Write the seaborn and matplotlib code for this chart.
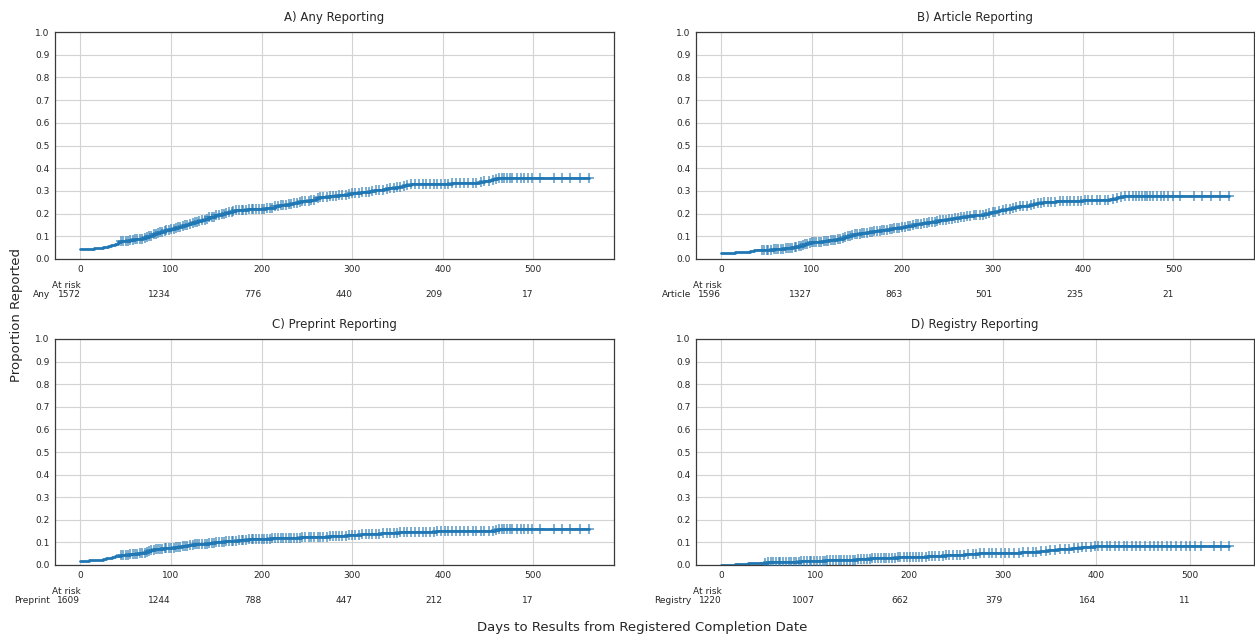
import numpy as np
import pandas as pd
import matplotlib.pyplot as plt
import seaborn as sns

# theme first, then fonts (set_theme resets font.family)
sns.set_theme(style="whitegrid")
plt.rcParams['font.family'] = ['DejaVu Sans']
plt.rcParams['axes.edgecolor'] = '#3a3a3a'
plt.rcParams['grid.color'] = '#d3d3d3'

# === data ===
panel_titles = ['A) Any Reporting', 'B) Article Reporting',
                'C) Preprint Reporting', 'D) Registry Reporting']
row_labels = ['Any', 'Article', 'Preprint', 'Registry']

risk_days = [0, 100, 200, 300, 400, 500]
any_risk = [1572, 1234, 776, 440, 209, 17]
article_risk = [1596, 1327, 863, 501, 235, 21]
preprint_risk = [1609, 1244, 788, 447, 212, 17]
registry_risk = [1220, 1007, 662, 379, 164, 11]

# cumulative proportion reported (step knots)
any_days = [0, 5, 10, 15, 20, 25, 30, 34, 38, 42, 45, 50, 55, 60, 65, 69, 72, 76, 80, 84,
            88, 92, 95, 100, 104, 108, 112, 115, 119, 122, 126, 130, 134, 138, 142, 145,
            149, 152, 156, 160, 164, 168, 172, 175, 180, 185, 190, 195, 200, 205, 210, 215,
            220, 225, 230, 235, 240, 245, 250, 255, 260, 265, 270, 275, 280, 285, 290, 295,
            300, 305, 310, 315, 320, 325, 330, 335, 340, 345, 350, 355, 358, 362, 365, 372,
            380, 390, 400, 410, 420, 428, 435, 440, 445, 449, 452, 456, 460, 561]
any_prop = [0.042, 0.043, 0.045, 0.047, 0.050, 0.054, 0.058, 0.063, 0.068, 0.074, 0.078,
            0.080, 0.083, 0.086, 0.089, 0.094, 0.098, 0.103, 0.108, 0.113, 0.118, 0.123,
            0.127, 0.134, 0.138, 0.142, 0.147, 0.151, 0.156, 0.160, 0.165, 0.169, 0.174,
            0.178, 0.183, 0.187, 0.192, 0.196, 0.200, 0.204, 0.208, 0.211, 0.214, 0.216,
            0.218, 0.219, 0.220, 0.221, 0.222, 0.224, 0.226, 0.233, 0.236, 0.240, 0.243,
            0.247, 0.250, 0.254, 0.257, 0.261, 0.268, 0.272, 0.275, 0.277, 0.279, 0.281,
            0.283, 0.286, 0.289, 0.292, 0.294, 0.297, 0.299, 0.302, 0.304, 0.307, 0.311,
            0.314, 0.318, 0.321, 0.324, 0.327, 0.329, 0.330, 0.331, 0.332, 0.332, 0.333,
            0.333, 0.335, 0.337, 0.339, 0.342, 0.345, 0.348, 0.352, 0.355, 0.355]

article_days = [0, 8, 15, 22, 28, 32, 36, 42, 50, 58, 65, 70, 75, 79, 82, 86, 90, 93, 96,
                100, 104, 108, 112, 115, 119, 122, 125, 128, 131, 134, 137, 140, 143, 145,
                148, 150, 154, 158, 162, 165, 169, 172, 176, 180, 185, 190, 195, 200, 204,
                208, 212, 215, 219, 222, 226, 230, 234, 238, 242, 245, 249, 252, 256, 260,
                264, 268, 272, 275, 279, 283, 287, 290, 293, 296, 299, 302, 305, 308, 312,
                315, 320, 325, 330, 335, 340, 345, 349, 352, 356, 360, 370, 380, 390, 400,
                408, 415, 422, 430, 433, 436, 439, 441, 444, 446, 561]
article_prop = [0.028, 0.028, 0.029, 0.030, 0.032, 0.035, 0.039, 0.040, 0.041, 0.043, 0.045,
                0.047, 0.050, 0.052, 0.055, 0.059, 0.063, 0.066, 0.070, 0.074, 0.075, 0.077,
                0.079, 0.080, 0.082, 0.084, 0.085, 0.087, 0.090, 0.093, 0.097, 0.100, 0.103,
                0.105, 0.108, 0.110, 0.113, 0.116, 0.118, 0.120, 0.122, 0.124, 0.126, 0.129,
                0.132, 0.135, 0.138, 0.141, 0.144, 0.147, 0.150, 0.152, 0.155, 0.157, 0.160,
                0.163, 0.165, 0.168, 0.171, 0.173, 0.175, 0.177, 0.180, 0.182, 0.184, 0.186,
                0.188, 0.190, 0.192, 0.194, 0.196, 0.198, 0.200, 0.202, 0.205, 0.208, 0.211,
                0.215, 0.218, 0.221, 0.225, 0.228, 0.232, 0.235, 0.239, 0.243, 0.246, 0.248,
                0.251, 0.253, 0.255, 0.256, 0.257, 0.258, 0.259, 0.260, 0.261, 0.263, 0.265,
                0.268, 0.271, 0.274, 0.277, 0.279, 0.279]

preprint_days = [0, 5, 10, 15, 20, 25, 28, 32, 35, 38, 42, 45, 50, 55, 60, 65, 68, 72, 75,
                 78, 82, 85, 89, 92, 96, 100, 104, 108, 112, 115, 119, 122, 126, 130, 134,
                 138, 142, 145, 149, 152, 156, 160, 164, 168, 172, 175, 179, 182, 186, 190,
                 195, 200, 206, 212, 218, 225, 231, 237, 243, 250, 256, 262, 268, 275, 281,
                 288, 294, 300, 305, 310, 315, 320, 326, 332, 338, 345, 352, 358, 364, 370,
                 378, 385, 392, 400, 415, 430, 445, 455, 458, 462, 561]
preprint_prop = [0.018, 0.019, 0.021, 0.022, 0.024, 0.027, 0.029, 0.033, 0.036, 0.039,
                 0.042, 0.044, 0.046, 0.048, 0.050, 0.052, 0.055, 0.058, 0.062, 0.067,
                 0.069, 0.071, 0.073, 0.074, 0.076, 0.077, 0.079, 0.081, 0.083, 0.085,
                 0.087, 0.089, 0.091, 0.092, 0.094, 0.095, 0.097, 0.098, 0.100, 0.101,
                 0.103, 0.104, 0.106, 0.107, 0.108, 0.109, 0.111, 0.112, 0.114, 0.115,
                 0.116, 0.117, 0.117, 0.118, 0.119, 0.120, 0.120, 0.121, 0.122, 0.123,
                 0.124, 0.125, 0.126, 0.128, 0.129, 0.130, 0.131, 0.133, 0.134, 0.135,
                 0.136, 0.137, 0.138, 0.140, 0.141, 0.143, 0.144, 0.145, 0.146, 0.146,
                 0.147, 0.148, 0.149, 0.149, 0.149, 0.149, 0.150, 0.150, 0.154, 0.158, 0.158]

registry_days = [0, 5, 10, 15, 20, 28, 35, 42, 50, 60, 70, 85, 100, 112, 125, 135, 145, 152,
                 160, 168, 175, 188, 200, 210, 220, 230, 240, 250, 260, 268, 275, 288, 300,
                 310, 320, 330, 340, 344, 348, 352, 355, 359, 362, 366, 370, 374, 378, 382,
                 385, 389, 392, 395, 398, 404, 410, 541]
registry_prop = [0.000, 0.001, 0.002, 0.004, 0.005, 0.007, 0.008, 0.010, 0.012, 0.013,
                 0.015, 0.017, 0.019, 0.020, 0.022, 0.023, 0.025, 0.027, 0.029, 0.031,
                 0.032, 0.034, 0.035, 0.036, 0.038, 0.040, 0.043, 0.045, 0.047, 0.049,
                 0.051, 0.052, 0.054, 0.055, 0.057, 0.059, 0.062, 0.063, 0.065, 0.066,
                 0.068, 0.070, 0.071, 0.072, 0.073, 0.075, 0.076, 0.077, 0.078, 0.079,
                 0.080, 0.081, 0.082, 0.082, 0.083, 0.083]

# censoring times (ticks on the curves)
censor_days = [45, 47, 50, 52, 55, 58, 60, 63, 66, 68, 71, 74, 76, 78, 81, 83, 86, 88, 90,
               93, 95, 98, 100, 103, 105, 108, 110, 113, 116, 118, 121, 124, 126, 129, 131,
               134, 137, 140, 142, 145, 148, 150, 153, 156, 158, 161, 164, 167, 169, 172,
               175, 178, 180, 183, 186, 189, 191, 194, 197, 200, 203, 206, 209, 212, 215,
               218, 221, 224, 227, 230, 233, 236, 239, 242, 245, 248, 252, 255, 258, 262,
               265, 268, 272, 275, 279, 282, 286, 289, 293, 296, 300, 303, 307, 311, 315,
               319, 322, 326, 330, 334, 338, 342, 346, 350, 353, 357, 361, 365, 369, 374,
               378, 382, 386, 390, 394, 398, 402, 406, 410, 415, 419, 424, 428, 433, 437,
               442, 446, 451, 455, 459, 462, 465, 468, 471, 474, 477, 482, 486, 490, 494,
               499, 507, 523, 532, 541, 551, 561]
registry_censor_days = [47, 50, 53, 55, 58, 61, 63, 66, 69, 72, 74, 77, 80, 83, 85, 88, 91,
                        94, 96, 99, 102, 105, 108, 110, 113, 116, 119, 122, 125, 128, 131,
                        134, 137, 140, 143, 146, 149, 152, 155, 158, 161, 164, 167, 170,
                        173, 176, 179, 182, 185, 188, 191, 195, 198, 201, 204, 208, 211,
                        214, 218, 221, 225, 228, 232, 236, 240, 243, 247, 251, 255, 259,
                        263, 268, 272, 276, 280, 285, 289, 293, 298, 303, 307, 312, 317,
                        322, 327, 332, 336, 341, 346, 351, 356, 361, 366, 371, 376, 380,
                        385, 389, 394, 398, 402, 406, 411, 415, 420, 424, 429, 433, 438,
                        442, 447, 452, 457, 461, 466, 470, 475, 480, 485, 490, 495, 500,
                        505, 511, 525, 533, 541]

curves = [
    (any_days, any_prop, censor_days, any_risk),
    (article_days, article_prop, censor_days, article_risk),
    (preprint_days, preprint_prop, censor_days, preprint_risk),
    (registry_days, registry_prop, registry_censor_days, registry_risk),
]

W, H = 1255, 636
fig = plt.figure(figsize=(W / 100, H / 100), dpi=100)
# axes boxes in pixels: left, top, right, bottom
boxes = [(55, 32, 614, 259), (696, 32, 1254, 259),
         (55, 339, 614, 565), (696, 339, 1254, 565)]

line_color = '#1f77b4'
text_color = '#262626'

for i, (days, prop, cens, risk) in enumerate(curves):
    l, t, r, b = boxes[i]
    ax = fig.add_axes([l / W, 1 - b / H, (r - l) / W, (b - t) / H])

    df = pd.DataFrame({'day': days, 'prop': prop})
    sns.lineplot(data=df, x='day', y='prop', ax=ax, color=line_color, lw=2,
                 drawstyle='steps-post', estimator=None)

    # censor ticks sit on the step curve
    idx = np.searchsorted(np.array(days), np.array(cens), side='right') - 1
    cdf = pd.DataFrame({'day': cens, 'prop': np.array(prop)[idx]})
    sns.scatterplot(data=cdf, x='day', y='prop', ax=ax, marker='+', s=55,
                    color=line_color, linewidth=1.1, alpha=0.75, zorder=3)

    ax.set_ylim(0, 1)
    ax.set_yticks(np.arange(0, 1.01, 0.1))
    ax.set_yticklabels([f'{v:.1f}' for v in np.arange(0, 1.01, 0.1)])
    ax.set_xticks(risk_days)
    ax.tick_params(labelsize=6.5, length=0, pad=4, labelcolor=text_color)
    ax.set_xlabel('')
    ax.set_ylabel('')
    ax.set_title(panel_titles[i], fontsize=8.5, pad=8, color=text_color)
    for sp in ax.spines.values():
        sp.set_color('#3a3a3a')
        sp.set_linewidth(0.9)
    ax.grid(True, color='#d3d3d3', lw=0.8)

    # at-risk table below each panel
    tr = ax.get_xaxis_transform()
    h_px = b - t
    y_head = -26 / h_px
    y_cnt = -35.5 / h_px
    ax.text(0, y_head, 'At risk', transform=tr, ha='right', va='center', fontsize=6.5,
            color=text_color)
    for d, n in zip(risk_days, risk):
        ax.text(d, y_cnt, str(n), transform=tr, ha='right', va='center', fontsize=6.5,
                color=text_color)
    ax.text(-5 / (r - l), y_cnt, row_labels[i], transform=ax.transAxes, ha='right',
            va='center', fontsize=6.5, color=text_color)

fig.text(17 / W, 1 - 314.5 / H, 'Proportion Reported', rotation=90, ha='center',
         va='center', fontsize=9.5, color=text_color)
fig.text(642 / W, 1 - 627 / H, 'Days to Results from Registered Completion Date',
         ha='center', va='center', fontsize=9.5, color=text_color)

fig.savefig('out.png', dpi=100)
